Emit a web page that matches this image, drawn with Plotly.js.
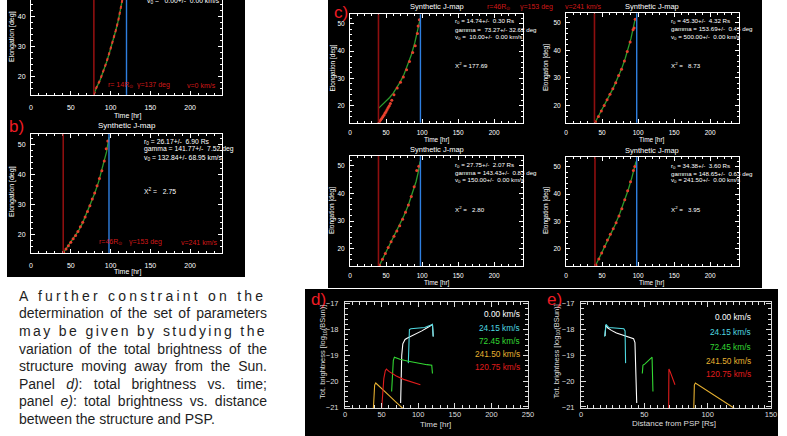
<!DOCTYPE html>
<html><head><meta charset="utf-8">
<script src="https://cdn.plot.ly/plotly-3.0.1.min.js"></script>
<style>html,body{margin:0;padding:0;background:#fff}#chart{width:787px;height:436px}</style>
</head><body><div id="chart"></div>
<script>
// ---------- DATA ----------
// J-map panels: a, b, c1, c2, c3, c4 (time [hr] vs elongation [deg])
const aFitT = [79, 82, 86.7, 91, 95, 99, 103.4, 106.5, 109.7, 112.5, 115.2, 117.5, 119.5];
const aFitE = [13.9, 16.1, 18.7, 21.6, 24.8, 28.3, 32, 35.3, 38.7, 42, 45.3, 48.6, 52];

const bFitT = [40.5, 45, 50, 55, 60, 65, 70, 75, 80, 85, 90, 95, 98];
const bFitE = [13.8, 15.5, 17.3, 19.2, 21.3, 23.9, 27, 30, 33.6, 37.6, 42.2, 47.6, 52.5];
const bDotT = [41, 44, 47, 50, 53, 56, 59, 62, 65, 68, 71, 74, 77, 80, 83, 86, 89, 92, 94.5, 96.5];
const bDotE = [14, 15.1, 16.2, 17.3, 18.5, 19.6, 20.9, 22.5, 24, 25.8, 27.6, 29.5, 31.8, 33.8, 36.2, 38.6, 41.2, 44.5, 48.6, 51.2];

const c1FitT = [39.5, 45, 50, 55, 60, 65, 70, 75, 80, 85, 90, 94, 97.5];
const c1FitE = [19, 20.3, 21.6, 23, 24.6, 26.5, 28.8, 31.5, 34.8, 38.6, 43.2, 47.5, 52];
const c1DotT = [39.5, 41, 42.5, 44, 45.5, 47, 48.5, 50, 51.5, 53, 54.5, 56, 58, 61, 65.5, 70, 74, 78.5, 82.5, 87, 90.5, 93.5, 94.5, 96.3];
const c1DotE = [13.5, 14.1, 14.7, 15.3, 15.9, 16.5, 17.2, 17.9, 18.6, 19.3, 20, 20.8, 22, 24, 26.5, 28.6, 30.5, 33.2, 36.2, 39.5, 42, 46.5, 49.2, 51.5];

const c2FitT = [40.5, 45, 51.8, 58, 65.7, 71, 77.3, 82, 86.6, 90, 92.6, 96];
const c2FitE = [13.9, 16, 19.4, 22.6, 26.4, 29.5, 33.4, 37, 40.7, 44.2, 47.4, 51.5];
const c2DotT = [41, 45, 49, 53, 57, 61, 65, 69, 73, 77, 81, 85, 89, 93, 94.5, 96];
const c2DotE = [14.1, 16, 18, 20, 22.1, 24.1, 26.1, 28.3, 30.9, 33.2, 36.2, 39.6, 43.1, 47.5, 48.2, 51.3];

const c3FitT = [40.7, 48, 55.6, 62, 69.4, 75, 81, 86.5, 91.7, 95, 97.2];
const c3FitE = [13.9, 17.7, 21.8, 25, 28.5, 32, 35.8, 39.8, 44.3, 48, 51.6];
const c3DotT = [41, 45, 49, 53, 57, 61, 65, 69, 73, 77, 81, 85, 89, 92.6, 95.5];
const c3DotE = [14, 16.2, 18.3, 20.4, 22.5, 24.5, 26.4, 28.3, 30.6, 33.2, 35.8, 38.9, 42.4, 48.3, 49.8];

const c4FitT = [41.2, 48, 54.2, 61, 68, 74.5, 80.6, 86, 91.2, 95, 97.2];
const c4FitE = [14, 17.6, 21.4, 25, 28.7, 32.8, 37.2, 41.3, 45.8, 49.3, 51.9];
const c4DotT = [41.5, 45.5, 49.5, 53.5, 57.5, 61.5, 65.5, 69.5, 73.5, 77.5, 81.5, 85.5, 89.5, 93.5, 95.5];
const c4DotE = [14.1, 16.3, 18.5, 20.9, 23.2, 25.3, 27.3, 29.5, 32, 34.6, 37.9, 41.2, 44.5, 48.6, 50];

const jStart = [79, 40.5, 39.5, 39.5, 39.5, 40.2];   // dark red vertical lines
const jEnd   = [120, 98, 97.7, 98.1, 97.7, 98.1];    // blue vertical lines

const jParams = [
  ["v<sub>0</sub> =   0.00+/-  0.00 km/s"],
  ["r<sub>0</sub> = 26.17+/-  6.90 Rs", "gamma = 141.77+/-  7.52 deg", "v<sub>0</sub> = 132.84+/- 68.95 km/s"],
  ["r<sub>0</sub> = 14.74+/-  0.30 Rs", "gamma =  73.27+/- 32.62 deg", "v<sub>0</sub> =  10.00+/-  0.00 km/s"],
  ["r<sub>0</sub> = 45.30+/-  4.32 Rs", "gamma = 153.69+/-  0.45 deg", "v<sub>0</sub> = 500.00+/-  0.00 km/s"],
  ["r<sub>0</sub> = 27.75+/-  2.07 Rs", "gamma = 143.43+/-  0.83 deg", "v<sub>0</sub> = 150.00+/-  0.00 km/s"],
  ["r<sub>0</sub> = 34.38+/-  3.60 Rs", "gamma = 148.65+/-  0.63 deg", "v<sub>0</sub> = 241.50+/-  0.00 km/s"]
];
const jChi = [null, "2.75", "177.69", "8.73", "2.80", "3.95"];
const trueA = ["r= 14R<sub>⊙</sub>", "γ=137 deg", "v=0 km/s"];
const trueBC = ["r=46R<sub>⊙</sub>", "γ=153 deg", "v=241 km/s"];

// Brightness panels d (vs time) and e (vs distance)
const speeds = ["0.00 km/s", "24.15 km/s", "72.45 km/s", "241.50 km/s", "120.75 km/s"];
const dWhiteT = [76, 76.5, 77.5, 79, 82, 86, 95, 105, 114, 119.5, 120.5];
const dWhiteB = [-20.85, -20.0, -19.0, -18.55, -18.38, -18.32, -18.2, -18.05, -17.9, -17.8, -18.27];
const dCyanT = [86.5, 87, 88, 90, 95, 100, 105, 109, 114, 119.5, 120.5];
const dCyanB = [-19.3, -18.6, -18.0, -17.97, -17.96, -17.95, -17.94, -17.92, -17.86, -17.8, -18.27];
const dGreenT = [63.7, 64.5, 66, 67.5, 70, 75, 85, 95, 105, 112, 118.5, 119.5];
const dGreenB = [-20.4, -19.8, -19.2, -19.07, -19.1, -19.15, -19.22, -19.28, -19.33, -19.36, -19.38, -19.7];
const dOrangeT = [38.7, 39.3, 40.5, 42, 50, 60, 70, 80];
const dOrangeB = [-21.1, -20.6, -20.15, -20.07, -20.3, -20.55, -20.82, -21.08];
const dRedT = [50, 51, 53, 55, 56.5, 60, 70, 80, 90, 100, 103];
const dRedB = [-21.1, -20.5, -19.9, -19.6, -19.53, -19.62, -19.8, -19.93, -20.03, -20.12, -20.14];

const eWhiteD = [44, 43.7, 43.3, 42.6, 41.5, 38, 33, 28, 24, 21, 19.6, 19];
const eWhiteB = [-20.85, -20.0, -19.0, -18.5, -18.35, -18.3, -18.22, -18.13, -18.03, -17.93, -17.82, -18.25];
const eCyanD = [35.2, 35.1, 34.8, 33.8, 31, 27, 24, 22, 20.8, 19.8, 18.6];
const eCyanB = [-19.3, -18.6, -18.05, -17.97, -17.96, -17.95, -17.94, -17.92, -17.86, -17.8, -18.27];
const eGreenD = [56.8, 56.7, 56.4, 56.1, 55.5, 54.5, 53.3, 52.0, 50.5, 49.5, 48.9, 48.4];
const eGreenB = [-20.4, -19.8, -19.2, -19.07, -19.1, -19.15, -19.22, -19.28, -19.33, -19.36, -19.38, -19.7];
const eOrangeD = [89, 89.1, 89.5, 90.3, 96, 103, 110, 117, 121];
const eOrangeB = [-21.1, -20.6, -20.15, -20.07, -20.25, -20.48, -20.7, -20.93, -21.05];
const eRedD = [69.2, 69.2, 69.2, 69.3, 69.4, 70.3, 71.5, 72.5, 73.3, 74, 74.2];
const eRedB = [-21.1, -20.5, -19.9, -19.6, -19.53, -19.62, -19.8, -19.93, -20.03, -20.12, -20.14];

const paraLines = [
  "A further constraint on the",
  "determination of the set of parameters",
  "may be given by studying the",
  "variation of the total brightness of the",
  "structure moving away from the Sun.",
  "Panel <i>d)</i>: total brightness vs. time;",
  "panel <i>e)</i>: total brightness vs. distance",
  "between the structure and PSP."
];
const paraMode = ['letter','word','letter','word','word','word','word','none'];

// ---------- STYLE / LAYOUT ----------
const W = 787, H = 436;
const F = '"Liberation Sans", Arial, sans-serif';
const px = v => v / W, py = v => 1 - v / H;
const GREEN = '#2c9a2c', DOTRED = '#e8402c', DKRED = '#8e0f0f', BLUE = '#2f7fe0', TRUERED = '#d01818', LBLRED = '#ee1c24';
const COLS = ['#ffffff', '#4fd8e0', '#33d833', '#e6b030', '#e01c1c'];

function jx(x0, x1, anchor, fs, mirror, so) {
  return {domain: [px(x0), px(x1)], anchor, range: [0, 240], tick0: 0, dtick: 50,
    ticks: 'inside', ticklen: 4, tickcolor: '#fff', tickwidth: 1,
    minor: {dtick: 10, ticks: 'inside', ticklen: 2, tickcolor: '#fff', tickwidth: 1},
    showline: true, linecolor: '#fff', linewidth: 1, mirror, showgrid: false, zeroline: false,
    tickfont: {family: F, size: fs, color: '#fff'}, ticklabelstandoff: so, fixedrange: true};
}
function jy(y0, y1, anchor, fs, range) {
  return {domain: [py(y1), py(y0)], anchor, range, tick0: 0, dtick: 10,
    ticks: 'inside', ticklen: 4, tickcolor: '#fff', tickwidth: 1,
    minor: {dtick: 2, ticks: 'inside', ticklen: 2, tickcolor: '#fff', tickwidth: 1},
    showline: true, linecolor: '#fff', linewidth: 1, mirror: 'ticks', showgrid: false, zeroline: false,
    tickfont: {family: F, size: fs, color: '#fff'}, ticklabelstandoff: 3, fixedrange: true};
}
function bx(x0, x1, anchor, range, minor) {
  return {domain: [px(x0), px(x1)], anchor, range, tick0: 0, dtick: 50,
    ticks: 'inside', ticklen: 5, tickcolor: '#ddd', tickwidth: 1,
    minor: {dtick: minor, ticks: 'inside', ticklen: 3, tickcolor: '#ddd', tickwidth: 1},
    showline: true, linecolor: '#ddd', linewidth: 1, mirror: 'ticks', showgrid: false, zeroline: false,
    tickfont: {family: F, size: 7.5, color: '#ddd'}, ticklabelstandoff: -1, fixedrange: true};
}
function by(y0, y1, anchor) {
  return {domain: [py(y1), py(y0)], anchor, range: [-21.04, -16.93], tick0: 0, dtick: 1,
    ticks: 'inside', ticklen: 5, tickcolor: '#ddd', tickwidth: 1,
    minor: {dtick: 0.2, ticks: 'inside', ticklen: 3, tickcolor: '#ddd', tickwidth: 1},
    showline: true, linecolor: '#ddd', linewidth: 1, mirror: 'ticks', showgrid: false, zeroline: false,
    tickfont: {family: F, size: 7.5, color: '#ddd'}, ticklabelstandoff: 4, fixedrange: true};
}

const JR = [13.75, 53.5];
const layout = {
  width: W, height: H, margin: {l: 0, r: 0, t: 0, b: 0},
  paper_bgcolor: '#ffffff', plot_bgcolor: '#000000', showlegend: false,
  xaxis: jx(31, 222, 'y', 7, false, 6),  yaxis: jy(0, 95, 'x', 7, [13.75, 45.5]),
  xaxis2: jx(31, 222, 'y2', 7, 'ticks', 6), yaxis2: jy(134, 253, 'x2', 7, JR),
  xaxis3: jx(350, 523, 'y3', 6.5, 'ticks', 3), yaxis3: jy(14.3, 122.7, 'x3', 6.5, JR),
  xaxis4: jx(566, 739, 'y4', 6.5, 'ticks', 3), yaxis4: jy(13.3, 122.7, 'x4', 6.5, JR),
  xaxis5: jx(350, 523, 'y5', 6.5, 'ticks', 3), yaxis5: jy(156, 266, 'x5', 6.5, JR),
  xaxis6: jx(566, 739, 'y6', 6.5, 'ticks', 3), yaxis6: jy(157, 266, 'x6', 6.5, JR),
  xaxis7: bx(345, 528, 'y7', [0, 250], 10), yaxis7: by(302, 408, 'x7'),
  xaxis8: bx(581, 771, 'y8', [0, 150], 5), yaxis8: by(302, 408, 'x8'),
  shapes: [], annotations: []
};

// black background boxes
[[7, 0, 245, 277], [328, 0, 762, 288], [305, 289, 778, 436]].forEach(b => {
  layout.shapes.push({type: 'rect', xref: 'paper', yref: 'paper', layer: 'below',
    x0: px(b[0]), x1: px(b[2]), y0: py(b[3]), y1: py(b[1]), fillcolor: '#000', line: {width: 0}});
});

function T(text, x, y, size, color, xanchor, extra) {
  return Object.assign({text, x: px(x), y: py(y), xref: 'paper', yref: 'paper', showarrow: false,
    xanchor: xanchor || 'center', yanchor: 'middle', font: {family: F, size, color}}, extra || {});
}
const A = layout.annotations;

// ---------- TRACES ----------
const data = [];
const axn = ['', '2', '3', '4', '5', '6'];
const fits = [[aFitT, aFitE], [bFitT, bFitE], [c1FitT, c1FitE], [c2FitT, c2FitE], [c3FitT, c3FitE], [c4FitT, c4FitE]];
const dots = [null, [bDotT, bDotE], [c1DotT, c1DotE], [c2DotT, c2DotE], [c3DotT, c3DotE], [c4DotT, c4DotE]];
fits.forEach((f, i) => {
  const xa = 'x' + axn[i], ya = 'y' + axn[i];
  layout.shapes.push({type: 'line', xref: xa, yref: ya + ' domain', x0: jStart[i], x1: jStart[i], y0: 0, y1: 1, line: {color: DKRED, width: 1.6}});
  layout.shapes.push({type: 'line', xref: xa, yref: ya + ' domain', x0: jEnd[i], x1: jEnd[i], y0: 0, y1: 1, line: {color: BLUE, width: 1.4}});
  data.push({x: f[0], y: f[1], xaxis: xa, yaxis: ya, mode: 'lines', line: {color: GREEN, width: 1.3}, hoverinfo: 'skip'});
  if (dots[i]) {
    data.push({x: dots[i][0], y: dots[i][1], xaxis: xa, yaxis: ya, mode: 'markers', marker: {color: DOTRED, size: 3}, hoverinfo: 'skip'});
  } else {
    data.push({x: f[0], y: f[1], xaxis: xa, yaxis: ya, mode: 'lines', line: {color: DOTRED, width: 2, dash: 'dot'}, hoverinfo: 'skip'});
  }
});
const dSeries = [[dWhiteT, dWhiteB], [dCyanT, dCyanB], [dGreenT, dGreenB], [dOrangeT, dOrangeB], [dRedT, dRedB]];
const eSeries = [[eWhiteD, eWhiteB], [eCyanD, eCyanB], [eGreenD, eGreenB], [eOrangeD, eOrangeB], [eRedD, eRedB]];
dSeries.forEach((s, i) => data.push({x: s[0], y: s[1], xaxis: 'x7', yaxis: 'y7', mode: 'lines', line: {color: COLS[i], width: 1.1}, hoverinfo: 'skip'}));
eSeries.forEach((s, i) => data.push({x: s[0], y: s[1], xaxis: 'x8', yaxis: 'y8', mode: 'lines', line: {color: COLS[i], width: 1.1}, hoverinfo: 'skip'}));

// ---------- TEXT ----------
const NB = s => s.replace(/ /g, '\u00a0');
// panel a
A.push(T(NB(jParams[0][0]), 145, 1, 6.8, '#fff', 'left'));
A.push(T('Time [hr]', 127, 116, 7, '#fff'));
A.push(T('Elongation [deg]', 12, 37, 7, '#fff', 'center', {textangle: -90}));
[121, 153, 201].forEach((x, k) => A.push(T(trueA[k], x, 85, 7, TRUERED)));
// panel b
A.push(T('b)', 7, 127, 17, LBLRED, 'left'));
A.push(T('Synthetic J-map', 127, 126, 8, '#fff'));
A.push(T('Time [hr]', 127, 272, 7, '#fff'));
A.push(T('Elongation [deg]', 12, 192, 7, '#fff', 'center', {textangle: -90}));
[111, 145, 199].forEach((x, k) => A.push(T(trueBC[k], x, 242, 7, TRUERED)));
[141.7, 149.3, 157.7].forEach((y, k) => A.push(T(NB(jParams[1][k]), 142, y, 6.8, '#fff', 'left')));
A.push(T(NB('Χ<sup>2</sup> =   ' + jChi[1]), 142, 191, 6.8, '#fff', 'left'));
// panel c
A.push(T('c)', 332, 12, 17, LBLRED, 'left'));
[498, 536, 583].forEach((x, k) => A.push(T(trueBC[k], x, 7, 7, TRUERED)));
const cPos = [[437, 7, 453, [21, 29.3, 37.3], 65.3, 332, 68.5, 140],
              [652, 6.5, 669, [21, 29, 36.5], 65, 546, 68, 140],
              [437, 149.5, 453, [165, 172.7, 179.5], 209, 332, 211, 283],
              [652, 150, 669, [166, 173.3, 180], 209, 546, 211, 283]];
cPos.forEach((p, i) => {
  A.push(T('Synthetic J-map', p[0], p[1], 7.5, '#fff'));
  p[3].forEach((y, k) => A.push(T(NB(jParams[i + 2][k]), p[2], y, 6.2, '#fff', 'left')));
  A.push(T(NB('Χ<sup>2</sup> = ' + (jChi[i + 2].length < 5 ? '  ' : '') + jChi[i + 2]), p[2], p[4], 6.2, '#fff', 'left'));
  A.push(T('Elongation [deg]', p[5], p[6], 6.5, '#fff', 'center', {textangle: -90}));
  A.push(T('Time [hr]', p[0], p[7], 6.5, '#fff'));
});
// panels d, e
A.push(T('d)', 309, 299, 17, LBLRED, 'left'));
A.push(T('e)', 545, 299, 17, LBLRED, 'left'));
A.push(T('Time [hr]', 435, 424.5, 8, '#ddd'));
A.push(T('Distance from PSP [Rs]', 674, 423.5, 8, '#ddd'));
A.push(T('Tot. brightness [log<sub>10</sub>(BSun)]', 323, 352, 7.5, '#ddd', 'center', {textangle: -90}));
A.push(T('Tot. brightness [log<sub>10</sub>(BSun)]', 556.5, 352, 7.5, '#ddd', 'center', {textangle: -90}));
const dLegY = [314, 327.5, 340.5, 354, 367], eLegY = [317, 332, 346.5, 360.5, 374];
speeds.forEach((s, i) => {
  A.push(T(NB(s), 522, dLegY[i], 8.3, COLS[i], 'right'));
  A.push(T(NB(s), 753, eLegY[i], 8.3, COLS[i], 'right'));
});

// paragraph (justified lines)
const ctx = document.createElement('canvas').getContext('2d');
ctx.font = '14px "Liberation Sans"';
const paraY = [295.7, 313.3, 330.9, 348.5, 366.1, 383.7, 401.3, 418.9];
const target = 248;
paraLines.forEach((ln, i) => {
  const plain = ln.replace(/<[^>]+>/g, '');
  const w = ctx.measureText(plain).width;
  let style = '';
  if (paraMode[i] === 'letter') style = 'letter-spacing:' + ((target - w) / plain.length).toFixed(2) + 'px';
  else if (paraMode[i] === 'word') style = 'word-spacing:' + ((target - w) / (plain.split(' ').length - 1)).toFixed(2) + 'px';
  const txt = style ? '<span style="' + style + '">' + ln + '</span>' : ln;
  A.push(T(txt, 16.5, paraY[i], 14, '#1e1e1e', 'left'));
});

Plotly.newPlot('chart', data, layout, {staticPlot: true, displayModeBar: false});
</script></body></html>
